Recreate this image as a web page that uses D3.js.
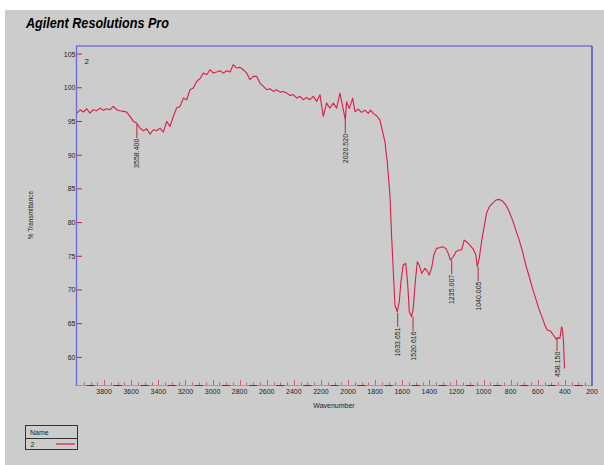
<!DOCTYPE html>
<html>
<head>
<meta charset="utf-8">
<script src="https://cdn.jsdelivr.net/npm/d3@7"></script>
<style>
  body { margin: 0; background: #fff; }
  text { font-family: Arial, "Liberation Sans", sans-serif; }
</style>
</head>
<body>
<div id="chart"></div>
<script>
// spectrum (wavenumber, % transmittance)
var wavenumbers = [
  4000,3978,3953,3929,3904,3880,3855,3830,3806,3781,
  3757,3732,3707,3683,3658,3634,3609,3584,3560,3535,
  3511,3486,3461,3437,3412,3388,3363,3338,3314,3289,
  3265,3240,3215,3191,3166,3142,3117,3093,3068,3043,
  3019,2994,2970,2945,2920,2896,2871,2847,2822,2797,
  2773,2748,2724,2699,2674,2650,2625,2601,2576,2551,
  2527,2502,2478,2453,2429,2404,2379,2355,2330,2306,
  2281,2256,2232,2207,2183,2158,2133,2109,2084,2060,
  2020,2011,1991,1966,1949,1925,1900,1876,1851,1834,
  1814,1789,1765,1745,1728,1711,1691,1679,1666,1654,
  1637,1622,1610,1593,1575,1561,1548,1531,1519,1504,
  1489,1475,1457,1433,1416,1401,1384,1367,1347,1327,
  1303,1278,1261,1244,1224,1204,1180,1162,1143,1125,
  1101,1076,1057,1047,1032,1015,998,978,958,934,
  909,884,860,835,811,786,762,737,712,688,
  663,639,614,589,565,548,530,506,486,466,
  449,437,425,417,410,403
];
var transmittance = [
  96.25,96.74,96.40,96.89,96.25,96.74,96.60,96.99,96.65,96.89,
  96.74,97.24,96.74,96.60,96.50,96.40,95.75,95.01,94.77,94.02,
  93.63,93.92,93.13,93.78,93.63,94.02,93.43,95.01,94.27,95.75,
  96.99,97.24,98.47,98.23,99.71,99.96,100.95,101.34,102.18,101.94,
  102.68,102.18,102.33,102.53,102.18,102.53,102.33,103.42,102.93,103.03,
  102.68,102.18,101.20,101.69,101.69,100.70,100.21,99.71,99.86,99.46,
  99.71,99.36,99.46,99.22,98.87,98.97,98.47,98.72,98.23,98.57,
  98.23,98.72,97.98,98.97,95.75,97.73,96.99,97.73,96.99,99.22,
  95.26,97.93,96.94,98.43,96.45,96.84,96.35,96.69,96.20,96.69,
  96.20,95.85,95.21,93.48,92.00,89.03,84.08,78.15,72.71,67.76,
  66.77,68.26,71.22,73.70,73.94,71.22,66.77,66.03,67.27,71.22,
  74.19,73.70,72.46,73.20,72.81,72.21,73.20,75.18,76.17,76.27,
  76.42,76.17,75.43,74.44,74.93,75.67,75.92,75.92,77.40,77.16,
  76.66,76.07,75.18,73.45,74.69,77.16,79.14,81.36,82.35,82.85,
  83.34,83.44,83.19,82.60,81.61,80.37,78.89,77.40,75.67,73.70,
  71.96,70.23,68.65,67.02,65.78,64.79,64.05,63.90,63.31,62.72,
  62.91,62.81,64.54,64.05,62.32,58.36
];

// labelled peaks
var peakWavenumbers = [3558.400, 2020.520, 1633.651, 1520.616, 1235.007, 1040.005, 458.150];
var peakValues = [94.6, 95.3, 66.6, 66.0, 74.4, 73.4, 63.0];
var peakLabels = ["3558.400", "2020.520", "1633.651", "1520.616", "1235.007", "1040.005", "458.150"];

var yTicks = [60, 65, 70, 75, 80, 85, 90, 95, 100, 105];
var xTickLabels = [3800, 3600, 3400, 3200, 3000, 2800, 2600, 2400, 2200, 2000,
                   1800, 1600, 1400, 1200, 1000, 800, 600, 400, 200];

var svg = d3.select("#chart")
  .append("svg")
    .attr("width", 604)
    .attr("height", 465);

// grey panel
svg.append("rect")
  .attr("x", 5).attr("y", 10)
  .attr("width", 599).attr("height", 455)
  .attr("fill", "#cccccc");

svg.append("text")
  .attr("x", 26).attr("y", 28)
  .attr("textLength", 143)
  .attr("lengthAdjust", "spacingAndGlyphs")
  .style("font-size", "14px")
  .style("font-weight", "bold")
  .style("font-style", "italic")
  .style("fill", "#000")
  .text("Agilent Resolutions Pro");

var plotLeft = 77, plotRight = 592, plotTop = 46, plotBottom = 385;

var x = d3.scaleLinear().domain([4000, 200]).range([plotLeft, plotRight]);
var y = d3.scaleLinear().domain([55.9, 106.2]).range([plotBottom, plotTop]);

// x axis: pink base line, blue pieces, red ticks pointing up
svg.append("line")
  .attr("x1", plotLeft).attr("x2", plotRight)
  .attr("y1", plotBottom + 0.5).attr("y2", plotBottom + 0.5)
  .attr("stroke", "#d88090").attr("stroke-width", 1);

svg.selectAll(".bluePiece")
  .data(d3.range(3900, 200, -200))
  .enter().append("line")
    .attr("class", "bluePiece")
    .attr("x1", function(d) { return x(d) - 4; })
    .attr("x2", function(d) { return x(d) + 4; })
    .attr("y1", plotBottom + 0.5).attr("y2", plotBottom + 0.5)
    .attr("stroke", "#3333cc").attr("stroke-width", 1);

svg.selectAll(".xTick")
  .data(d3.range(250, 4000, 50))
  .enter().append("line")
    .attr("class", "xTick")
    .attr("x1", function(d) { return Math.round(x(d)) + 0.5; })
    .attr("x2", function(d) { return Math.round(x(d)) + 0.5; })
    .attr("y1", plotBottom)
    .attr("y2", function(d) { return d % 200 === 0 ? plotBottom - 5 : plotBottom - 2.5; })
    .attr("stroke", "#e03040")
    .attr("stroke-opacity", 0.75);

svg.selectAll(".xLabel")
  .data(xTickLabels)
  .enter().append("text")
    .attr("class", "xLabel")
    .attr("x", function(d) { return x(d); })
    .attr("y", 393.5)
    .attr("text-anchor", "middle")
    .style("font-size", "7px")
    .style("fill", "#222")
    .text(function(d) { return d; });

// y axis ticks point inward too
svg.selectAll(".yTick")
  .data(yTicks)
  .enter().append("line")
    .attr("class", "yTick")
    .attr("x1", plotLeft).attr("x2", plotLeft + 5)
    .attr("y1", function(d) { return y(d); })
    .attr("y2", function(d) { return y(d); })
    .attr("stroke", "#d02030");

svg.selectAll(".yLabel")
  .data(yTicks)
  .enter().append("text")
    .attr("class", "yLabel")
    .attr("x", plotLeft - 1.5)
    .attr("y", function(d) { return y(d); })
    .attr("dy", "0.35em")
    .attr("text-anchor", "end")
    .style("font-size", "7px")
    .style("fill", "#222")
    .text(function(d) { return d; });

// frame: left and top light blue, right darker
svg.append("line")
  .attr("x1", plotLeft - 0.5).attr("x2", plotLeft - 0.5)
  .attr("y1", plotTop).attr("y2", plotBottom + 1)
  .attr("stroke", "#6c6cd8").attr("stroke-width", 1.3);
svg.append("line")
  .attr("x1", plotLeft - 1).attr("x2", plotRight)
  .attr("y1", plotTop).attr("y2", plotTop)
  .attr("stroke", "#7878d0").attr("stroke-width", 1.3);
svg.append("line")
  .attr("x1", plotRight).attr("x2", plotRight)
  .attr("y1", plotTop).attr("y2", plotBottom + 1)
  .attr("stroke", "#3030c0").attr("stroke-width", 1.2);

// spectrum
var line = d3.line()
  .x(function(d, i) { return x(wavenumbers[i]); })
  .y(function(d, i) { return y(transmittance[i]); });

svg.append("path")
  .attr("d", line(wavenumbers))
  .attr("fill", "none")
  .attr("stroke", "#dc1c44")
  .attr("stroke-width", 1.1)
  .attr("stroke-linejoin", "round");

// peak labels
svg.selectAll(".peakLine")
  .data(peakWavenumbers)
  .enter().append("line")
    .attr("class", "peakLine")
    .attr("x1", function(d) { return x(d); })
    .attr("x2", function(d) { return x(d); })
    .attr("y1", function(d, i) { return y(peakValues[i]); })
    .attr("y2", function(d, i) { return y(peakValues[i]) + 14; })
    .attr("stroke", "#a83030");

svg.selectAll(".peakText")
  .data(peakWavenumbers)
  .enter().append("text")
    .attr("class", "peakText")
    .attr("transform", function(d, i) {
      return "translate(" + (x(d) + 2.5) + "," + (y(peakValues[i]) + 14.5) + ") rotate(-90)";
    })
    .attr("text-anchor", "end")
    .style("font-size", "7px")
    .style("fill", "#222")
    .text(function(d, i) { return peakLabels[i]; });

svg.append("text")
  .attr("x", 84.5).attr("y", 63.5)
  .style("font-size", "8px")
  .style("fill", "#222")
  .text("2");

// axis titles
svg.append("text")
  .attr("transform", "translate(33,215) rotate(-90)")
  .attr("text-anchor", "middle")
  .style("font-size", "6.5px")
  .style("fill", "#222")
  .text("% Transmittance");

svg.append("text")
  .attr("x", 334).attr("y", 408)
  .attr("text-anchor", "middle")
  .style("font-size", "7px")
  .style("fill", "#222")
  .text("Wavenumber");

// legend box
var legend = svg.append("g");
legend.append("rect")
  .attr("x", 25.5).attr("y", 425.5)
  .attr("width", 52).attr("height", 24)
  .attr("fill", "none").attr("stroke", "#333");
legend.append("line")
  .attr("x1", 25.5).attr("x2", 77.5)
  .attr("y1", 438.5).attr("y2", 438.5)
  .attr("stroke", "#333");
legend.append("text")
  .attr("x", 30).attr("y", 434.5)
  .style("font-size", "7px")
  .style("fill", "#222")
  .text("Name");
legend.append("text")
  .attr("x", 30.5).attr("y", 446.5)
  .style("font-size", "7px")
  .style("fill", "#222")
  .text("2");
legend.append("line")
  .attr("x1", 56).attr("x2", 75)
  .attr("y1", 444).attr("y2", 444)
  .attr("stroke", "#dc1c44").attr("stroke-width", 1.2);
</script>
</body>
</html>
